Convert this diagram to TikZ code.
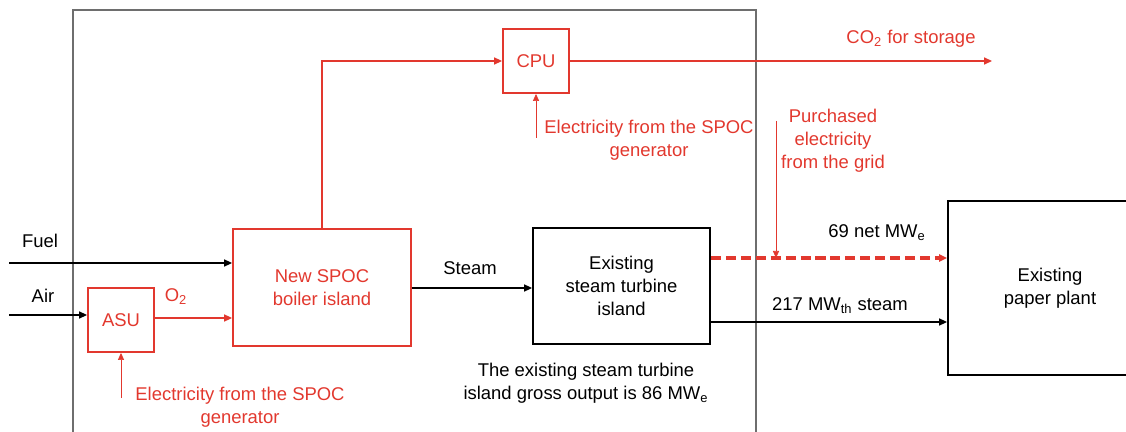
\documentclass[tikz,border=0pt]{standalone}
\usepackage{fontspec}
\setmainfont{Liberation Sans}
\usetikzlibrary{arrows.meta,positioning}
\definecolor{spocred}{HTML}{E2382E}
\definecolor{framegray}{HTML}{6E6E6E}

\begin{document}
\begin{tikzpicture}[x=0.02cm,y=-0.02cm,
  lbl/.style={font=\fontsize{10.5}{13}\selectfont,align=center,inner sep=0pt},
  redlbl/.style={lbl,text=spocred},
  unitbox/.style={draw,line width=1.1pt,lbl},
  redbox/.style={unitbox,draw=spocred,text=spocred},
  flow/.style={-{Triangle[length=4.5pt,width=4pt]},line width=0.8pt},
  redflow/.style={flow,color=spocred},
  elec/.style={-{Triangle[length=4pt,width=3.5pt]},line width=0.4pt,color=spocred}]
  \useasboundingbox (0,0) rectangle (1126,432);
  % site boundary
  \draw[framegray,line width=0.8pt] (73,432) -- (73,10) -- (756,10) -- (756,432);
  % units
  \node[redbox,minimum width=1.32cm,minimum height=1.28cm] (asu) at (121,320) {ASU};
  \node[redbox,minimum width=3.56cm,minimum height=2.34cm] (boiler) at (322,287.5) {New SPOC\\boiler island};
  \node[redbox,minimum width=1.32cm,minimum height=1.28cm] (cpu) at (536,61) {CPU};
  \node[unitbox,minimum width=3.54cm,minimum height=2.32cm] (turbine) at (621.5,286) {Existing\\steam turbine\\island};
  \node[unitbox,minimum width=4.08cm,minimum height=3.48cm] (plant) at (1050,288) {Existing\\paper plant};
  % free ends
  \coordinate (fuelin) at (9,263);
  \coordinate (airin) at (9,315);
  \coordinate (co2out) at (992,61);
  \coordinate (asuel) at (121,398);
  \coordinate (cpuel) at (536,138);
  \coordinate (gridel) at (776,121);
  % streams
  \draw[flow] (fuelin) -- (fuelin -| boiler.west);
  \draw[flow] (airin) -- (airin -| asu.west);
  \draw[redflow] (asu.east |- 0,318) -- (boiler.west |- 0,318);
  \draw[redflow] (boiler.north) |- (cpu.west);
  \draw[redflow] (cpu.east) -- (co2out);
  \draw[flow] (boiler.east |- 0,288) -- (turbine.west |- 0,288);
  \draw[redflow,line width=1.8pt,dash pattern=on 5.7pt off 2.8pt] (turbine.east |- 0,258) -- (plant.west |- 0,258);
  \draw[flow] (turbine.east |- 0,322) -- (plant.west |- 0,322);
  \draw[elec] (asuel) -- (asu.south);
  \draw[elec] (cpuel) -- (cpu.south);
  \draw[elec] (gridel) -- (gridel |- 0,258);
  % labels
  \node[lbl] (fuel) at (40,241) {Fuel};
  \node[lbl] (air) at (43,296) {Air};
  \node[redlbl] (otwo) at (176,297) {O\textsubscript{2}};
  \node[redlbl] (asuelec) at (240,407) {Electricity from the SPOC\\generator};
  \node[redlbl] (cpuelec) at (649,140) {Electricity from the SPOC\\generator};
  \node[redlbl] (co2) at (911,39) {CO\textsubscript{2} for storage};
  \node[redlbl] (grid) at (833,141) {Purchased\\electricity\\from the grid};
  \node[lbl] (steam) at (470,268) {Steam};
  \node[lbl] (gross) at (586,383) {The existing steam turbine\\island gross output is 86 MW\textsubscript{e}};
  \node[lbl] (netmw) at (877,233) {69 net MW\textsubscript{e}};
  \node[lbl] (steammw) at (840,306) {217 MW\textsubscript{th} steam};
\end{tikzpicture}
\end{document}
